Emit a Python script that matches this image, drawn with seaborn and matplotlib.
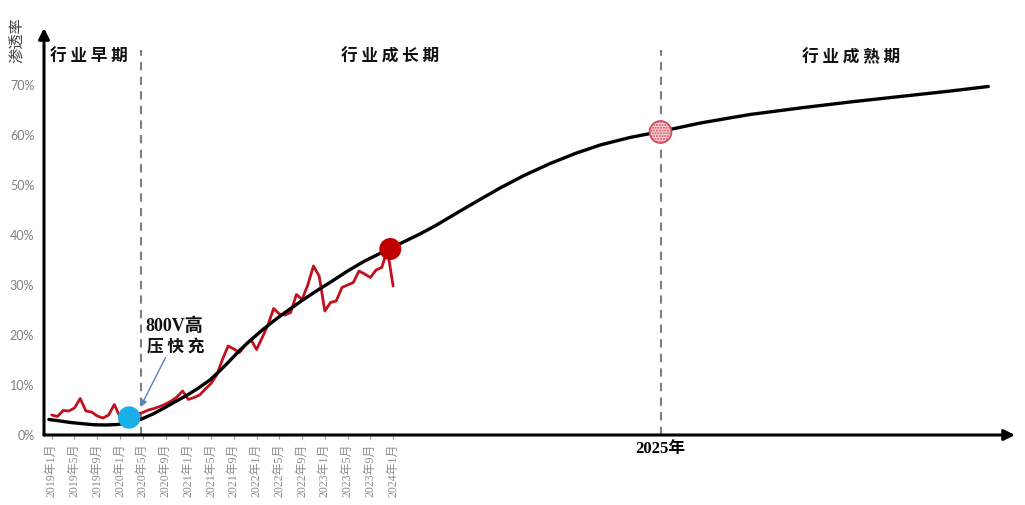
import numpy as np
import pandas as pd
import matplotlib
matplotlib.use("Agg")
import matplotlib.pyplot as plt
import seaborn as sns
from matplotlib.transforms import blended_transform_factory

# Monthly penetration rate (%), Jan 2019 .. Jan 2024
penetration = [4.0, 3.7, 4.9, 4.8, 5.4, 7.3, 4.8, 4.6, 3.8, 3.4, 4.0, 6.1,
               3.6, 3.2, 3.6, 4.2, 4.5, 5.0, 5.3, 5.7, 6.2, 6.8, 7.6, 8.8,
               7.1, 7.5, 8.0, 9.2, 10.3, 12.0, 15.1, 17.8, 17.2, 16.5, 18.0, 19.1,
               17.1, 19.5, 22.0, 25.3, 24.2, 24.0, 24.5, 28.1, 27.1, 30.0, 33.8, 31.8,
               24.8, 26.5, 26.8, 29.5, 30.0, 30.5, 32.8, 32.2, 31.5, 33.0, 33.5, 37.0,
               29.8]

# S-curve trend (month index from Jan 2019, %)
trend_month = [-0.5, 1.5, 3.3, 5.5, 7.4, 9.5, 11.5, 13.5, 15.8, 17.8, 19.6, 21.6,
               23.7, 25.8, 27.8, 29.5, 31.0, 33.0, 35.0, 37.0, 39.0, 41.0, 44.0,
               46.5, 48.9, 52.0, 55.0, 57.5, 59.5, 62.0, 64.7, 67.5, 70.0, 74.5,
               78.8, 83.0, 87.6, 92.0, 96.4, 101.6, 107.0, 114.0, 122.7, 131.5,
               140.3, 149.1, 158.0, 164.6]
trend_value = [3.1, 2.8, 2.5, 2.25, 2.05, 2.0, 2.1, 2.45, 3.2, 4.2, 5.3, 6.6,
               7.9, 9.4, 11.0, 12.8, 14.5, 16.9, 19.0, 21.0, 22.8, 24.5, 26.9,
               28.8, 30.5, 32.8, 34.8, 36.2, 37.3, 38.7, 40.2, 41.9, 43.6, 46.6,
               49.4, 51.9, 54.3, 56.3, 58.0, 59.5, 60.7, 62.4, 64.1, 65.4,
               66.6, 67.7, 68.8, 69.7]

month_ticks = [0, 4, 8, 12, 16, 20, 24, 28, 32, 36, 40, 44, 48, 52, 56, 60]
month_labels = ["2019年1月", "2019年5月", "2019年9月", "2020年1月", "2020年5月",
                "2020年9月", "2021年1月", "2021年5月", "2021年9月", "2022年1月",
                "2022年5月", "2022年9月", "2023年1月", "2023年5月", "2023年9月",
                "2024年1月"]
y_ticks = [0, 10, 20, 30, 40, 50, 60, 70]
y_labels = ["0%", "10%", "20%", "30%", "40%", "50%", "60%", "70%"]

phase_names = ["行 业 早 期", "行 业 成 长 期", "行 业 成 熟 期"]
phase_label_x = [6.6, 59.5, 140.5]
phase_bounds = [15.7, 107.0]
year_mark_x = 107.0
year_mark_label = "2025年"

fast_charge_point = (13.6, 3.5)
current_point = (59.5, 37.2)
mature_point = (107.0, 60.6)

sns.set_theme(style="white")
plt.rcParams["font.family"] = ["Noto Sans CJK SC", "DejaVu Sans"]

W, H = 1025, 505
fig = plt.figure(figsize=(W / 100, H / 100), dpi=100)
ax = fig.add_axes([44 / W, 1 - 435 / H, (1015 - 44) / W, (435 - 28) / H])
ax.set_xlim(-1.36, 169.3)
ax.set_ylim(0, 81.4)

df_pen = pd.DataFrame({"month": np.arange(len(penetration)), "value": penetration})
df_trend = pd.DataFrame({"month": trend_month, "value": trend_value})
sns.lineplot(data=df_pen, x="month", y="value", color="#c0111c", lw=2.0, ax=ax,
             zorder=2)
sns.lineplot(data=df_trend, x="month", y="value", color="black", lw=2.4, ax=ax,
             sort=False, zorder=3)
for line in ax.lines:
    line.set_solid_joinstyle("round")
    line.set_solid_capstyle("round")

# phase boundaries
for xb in phase_bounds:
    ax.plot([xb, xb], [0, 77], ls=(0, (4, 3)), color="#7f7f7f", lw=1.5, zorder=1)

# highlighted points
ax.scatter([fast_charge_point[0]], [fast_charge_point[1]], s=260, color="#1aafe6",
           edgecolor="none", zorder=5)
ax.scatter([current_point[0]], [current_point[1]], s=250, color="#c00000",
           edgecolor="none", zorder=5)
ax.scatter([mature_point[0]], [mature_point[1]], s=250, facecolor="#f7d3d7",
           edgecolor="#d04a5c", hatch="......", linewidth=1.2, zorder=5)

# axes with arrow heads
for s in ax.spines.values():
    s.set_visible(False)
ax.annotate("", xy=(0, 1), xytext=(0, 0), xycoords="axes fraction",
            arrowprops=dict(arrowstyle="-|>", color="black", lw=2.2,
                            mutation_scale=16, shrinkA=0, shrinkB=0))
ax.annotate("", xy=(1, 0), xytext=(0, 0), xycoords="axes fraction",
            arrowprops=dict(arrowstyle="-|>", color="black", lw=2.2,
                            mutation_scale=16, shrinkA=0, shrinkB=0))

ax.set_yticks(y_ticks)
ax.set_yticklabels(y_labels, fontfamily=["Lato", "DejaVu Sans"], fontsize=9,
                   color="#7f7f7f")
ax.tick_params(axis="y", length=0, pad=7)
ax.set_xticks(month_ticks)
ax.set_xticklabels(month_labels, rotation=90, fontsize=8.6, color="#8c8c8c",
                   fontfamily=["Liberation Serif", "Noto Sans CJK SC"])
ax.tick_params(axis="x", length=3, width=0.8, color="#999999", pad=3,
               direction="out", bottom=True)
ax.set_xlabel("")
ax.set_ylabel("")
ax.grid(False)

trans = blended_transform_factory(ax.transData, ax.transAxes)
ax.plot([year_mark_x, year_mark_x], [0, 0.012], color="#7f7f7f", lw=1,
        transform=trans, clip_on=False)
ax.text(year_mark_x, -0.014, year_mark_label, transform=trans, ha="center",
        va="top", fontsize=12, fontweight="bold", color="black",
        family=["Liberation Serif", "Noto Sans CJK SC"])

# phase names
for xl, name in zip(phase_label_x, phase_names):
    ax.text(xl, 75.6, name, ha="center", va="center", fontsize=12,
            fontweight="bold", color="#111111")

# 800V annotation
ax.text(16.5, 21.7, "800V高", ha="left", va="center", fontsize=13,
        fontweight="bold", color="#111111",
        family=["Liberation Serif", "Noto Sans CJK SC"])
ax.text(16.8, 17.5, "压 快 充", ha="left", va="center", fontsize=12,
        fontweight="bold", color="#111111")
ax.annotate("", xy=(15.6, 5.6), xytext=(20.0, 15.5),
            arrowprops=dict(arrowstyle="-|>", color="#5b7fc2", lw=1.0,
                            mutation_scale=10, shrinkA=0, shrinkB=0))

fig.text(18 / W, 1 - 40 / H, "渗透率", rotation=90, ha="center", va="center",
         fontsize=11, color="#404040")

fig.savefig("out.png", dpi=100)
